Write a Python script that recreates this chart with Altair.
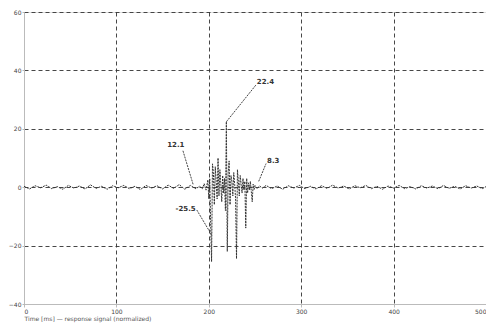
import altair as alt
import pandas as pd

# ---- data ----
base_left_x = [0, 6, 12, 18, 24, 30, 36, 42, 48, 54, 60, 66, 72, 78, 84, 90, 96, 102, 108, 114,
               120, 126, 132, 138, 144, 150, 156, 162, 168, 174, 180, 186]
base_left_y = [0.3, -0.6, 0.5, -0.2, 0.7, -0.5, 0.2, -0.7, 0.6, -0.3, 0.4, -0.6, 0.8, -0.4, 0.3, -0.7,
               0.5, -0.2, 0.6, -0.5, 0.3, -0.8, 0.6, -0.3, 0.5, -0.6, 0.7, -0.4, 0.9, -0.7, 0.6, -0.5]
spike_x = [190, 193, 195, 197, 199, 200, 201, 202, 203, 204, 205, 206, 207, 208, 209, 210, 211, 212,
           213, 214, 215, 216, 217, 218, 219, 220, 221, 222, 223, 224, 225, 226, 227, 228, 229, 230,
           231, 232, 233, 234, 235, 236, 237, 238, 239, 240, 241, 242, 243, 244, 245, 246, 247, 248,
           249, 250, 252, 255, 258]
spike_y = [0.3, -0.5, 1.2, -1.0, 2.5, -4, 3, -12, -25.5, 8, 5, -6, 7, 2, -4, 10, -3, 6,
           1, -5, 4, -2, 3, -8, 22.4, -22, 5, 9, -6, 4, 2, -3, 5, 1, -4, -24.5,
           6, 2, -3, 4, 1, -2, 3, -1, 2, -14, 3, -2, 1.5, -1, 2, -1.5, -5, 1,
           -0.8, 0.6, -0.5, 0.4, -0.3]
base_right_x = [262, 268, 274, 280, 286, 292, 298, 304, 310, 316, 322, 328, 334, 340, 346, 352, 358,
                364, 370, 376, 382, 388, 394, 400, 406, 412, 418, 424, 430, 436, 442, 448, 454, 460,
                466, 472, 478, 484, 490, 496, 500]
base_right_y = [0.6, -0.5, 0.4, -0.7, 0.5, -0.3, 0.6, -0.5, 0.3, -0.6, 0.5, -0.4, 0.7, -0.3, 0.4,
                -0.6, 0.5, -0.2, 0.6, -0.5, 0.3, -0.7, 0.4, -0.3, 0.6, -0.5, 0.2, -0.6, 0.5, -0.3,
                0.4, -0.5, 0.6, -0.4, 0.3, -0.6, 0.5, -0.3, 0.4, -0.5, 0.2]

ann_label = ["22.4", "12.1", "8.3", "-25.5"]
ann_x1 = [219, 183, 254, 203]
ann_y1 = [22.4, 1.0, 2.0, -16.3]
ann_x2 = [251, 172, 262, 187]
ann_y2 = [35.0, 12.5, 8.1, -7.8]
ann_tx = [252, 155, 263, 164]
ann_ty = [36.0, 14.6, 9.0, -7.5]

x_ticks = [0, 100, 200, 300, 400, 500]
y_ticks = [-40, -20, 0, 20, 40, 60]

sig = pd.DataFrame({
    "t": base_left_x + spike_x + base_right_x,
    "v": base_left_y + spike_y + base_right_y,
})
ann = pd.DataFrame({"label": ann_label, "x1": ann_x1, "y1": ann_y1, "x2": ann_x2, "y2": ann_y2,
                    "tx": ann_tx, "ty": ann_ty})

xs = alt.Scale(domain=[0, 500], nice=False)
ys = alt.Scale(domain=[-40, 60], nice=False)

xaxis = alt.Axis(values=x_ticks, grid=True, gridDash=[4, 3], gridColor="#333333", gridOpacity=0.9,
                 labelFontSize=6, labelColor="#444444", domainColor="#bbbbbb", tickColor="#bbbbbb",
                 tickSize=3, title="Time [ms] — response signal (normalized)", titleFontSize=6,
                 titleFontWeight="normal", titleColor="#555555", titleAnchor="start", titlePadding=1,
                 labelPadding=1)
yaxis = alt.Axis(values=y_ticks, grid=True, gridDash=[4, 3], gridColor="#333333", gridOpacity=0.9,
                 labelFontSize=6, labelColor="#444444", domainColor="#bbbbbb", tickColor="#bbbbbb",
                 tickSize=2, title=None, labelPadding=1)

line = alt.Chart(sig).mark_line(color="#333333", strokeWidth=1, strokeDash=[2, 1]).encode(
    x=alt.X("t:Q", scale=xs, axis=xaxis),
    y=alt.Y("v:Q", scale=ys, axis=yaxis),
)
leaders = alt.Chart(ann).mark_rule(color="#444444", strokeWidth=1, strokeDash=[2, 1]).encode(
    x=alt.X("x1:Q", scale=xs), y=alt.Y("y1:Q", scale=ys), x2="x2:Q", y2="y2:Q"
)
labels = alt.Chart(ann).mark_text(align="left", baseline="middle", fontSize=7, color="#333333",
                                  fontWeight="bold").encode(
    x=alt.X("tx:Q", scale=xs), y=alt.Y("ty:Q", scale=ys), text="label:N"
)

chart = alt.layer(line, leaders, labels).properties(
    width=462, height=292,
    autosize=alt.AutoSizeParams(type="none"),
    padding={"left": 16, "top": 4, "right": 0, "bottom": 20},
).configure_view(stroke=None).configure(font="DejaVu Sans")

chart.save("out.html", embed_options={"renderer": "svg", "actions": False})
